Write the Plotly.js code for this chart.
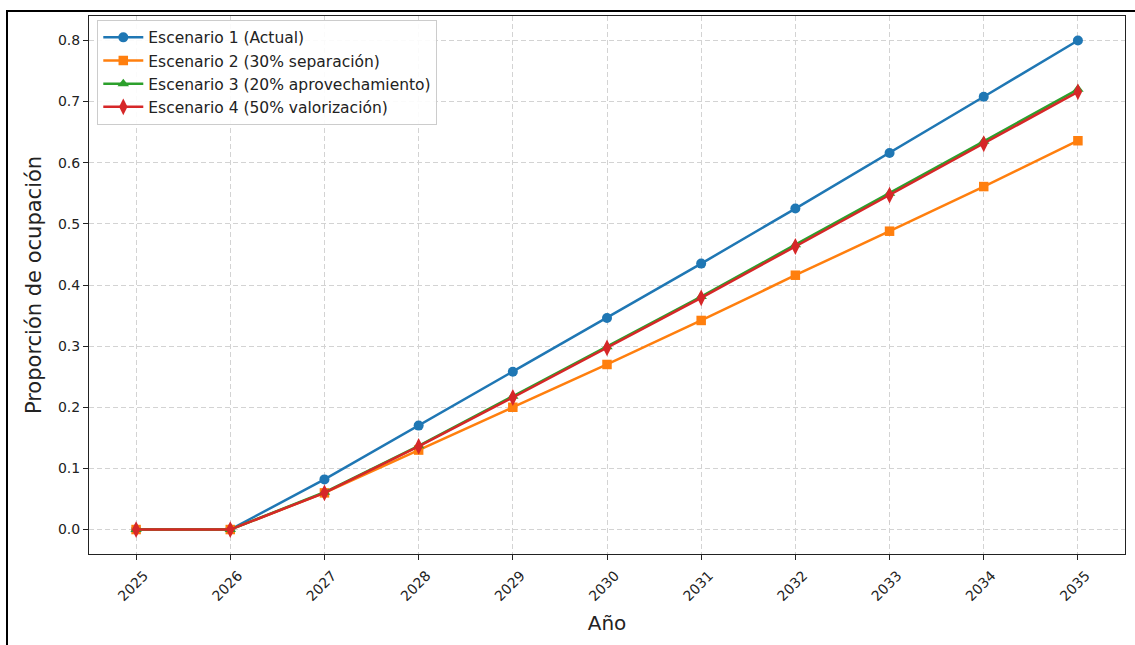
<!DOCTYPE html>
<html>
<head>
<meta charset="utf-8">
<script src="https://cdn.plot.ly/plotly-3.0.1.min.js"></script>
<style>
html,body{margin:0;padding:0;background:#fff;}
#chart{width:1135px;height:645px;}
#frame{position:absolute;left:6px;top:10px;width:1129px;height:635px;border-top:2px solid #000;border-left:2px solid #000;pointer-events:none;}
</style>
</head>
<body>
<div id="chart"></div>
<div id="frame"></div>
<script>
const years = ['2025','2026','2027','2028','2029','2030','2031','2032','2033','2034','2035'];
const esc1 = [0, 0, 0.082, 0.170, 0.258, 0.346, 0.435, 0.525, 0.616, 0.708, 0.800];
const esc2 = [0, 0, 0.060, 0.130, 0.200, 0.270, 0.342, 0.416, 0.488, 0.561, 0.636];
const esc3 = [0, 0, 0.061, 0.137, 0.218, 0.299, 0.381, 0.466, 0.550, 0.635, 0.720];
const esc4 = [0, 0, 0.060, 0.136, 0.216, 0.297, 0.379, 0.463, 0.547, 0.631, 0.716];
const names = ['Escenario 1 (Actual)','Escenario 2 (30% separación)','Escenario 3 (20% aprovechamiento)','Escenario 4 (50% valorización)'];
const colors = ['#1f77b4','#ff7f0e','#2ca02c','#d62728'];
const symbols = ['circle','square','triangle-up','diamond-tall'];
const sizes = [10, 9.5, 10, 12];
const series = [esc1, esc2, esc3, esc4];

const traces = series.map((ys, i) => ({
  x: years.map((_, k) => k),
  y: ys,
  type: 'scatter',
  mode: 'lines+markers',
  name: names[i],
  line: {color: colors[i], width: 2.5},
  marker: {color: colors[i], symbol: symbols[i], size: sizes[i], line: {width: 0}}
}));

const font = 'DejaVu Sans, sans-serif';
const layout = {
  width: 1135, height: 645,
  margin: {l: 89, r: 10, t: 16, b: 91},
  paper_bgcolor: '#fff', plot_bgcolor: '#fff',
  font: {family: font, size: 14, color: '#222'},
  showlegend: true,
  legend: {x: 0.008, y: 0.993, xanchor: 'left', yanchor: 'top',
    bgcolor: 'rgba(255,255,255,0.9)', bordercolor: '#cccccc', borderwidth: 1,
    font: {family: font, size: 15.5, color: '#222'}, itemwidth: 40},
  xaxis: {
    range: [-0.5, 10.5],
    tickmode: 'array', tickvals: years.map((_, k) => k), ticktext: years,
    tickangle: -45,
    ticklabelshift: 8,
    ticklabelstandoff: 2,
    showline: true, linecolor: '#222', linewidth: 1, mirror: true,
    ticks: 'outside', ticklen: 5, tickcolor: '#222',
    showgrid: true, gridcolor: '#d3d3d3', griddash: '5px,3px', gridwidth: 1,
    zeroline: false,
    tickfont: {family: font, size: 14, color: '#222'},
    title: {text: 'Año', font: {family: font, size: 20, color: '#222'}, standoff: 12}
  },
  yaxis: {
    range: [-0.04, 0.84],
    tickmode: 'array', tickvals: [0,0.1,0.2,0.3,0.4,0.5,0.6,0.7,0.8],
    ticktext: ['0.0','0.1','0.2','0.3','0.4','0.5','0.6','0.7','0.8'],
    showline: true, linecolor: '#222', linewidth: 1, mirror: true,
    ticks: 'outside', ticklen: 5, tickcolor: '#222',
    showgrid: true, gridcolor: '#d3d3d3', griddash: '5px,3px', gridwidth: 1,
    zeroline: false,
    tickfont: {family: font, size: 14, color: '#222'},
    title: {text: 'Proporción de ocupación', font: {family: font, size: 21, color: '#222'}, standoff: 10}
  }
};

Plotly.newPlot('chart', traces, layout, {displayModeBar: false, staticPlot: true});
</script>
</body>
</html>
